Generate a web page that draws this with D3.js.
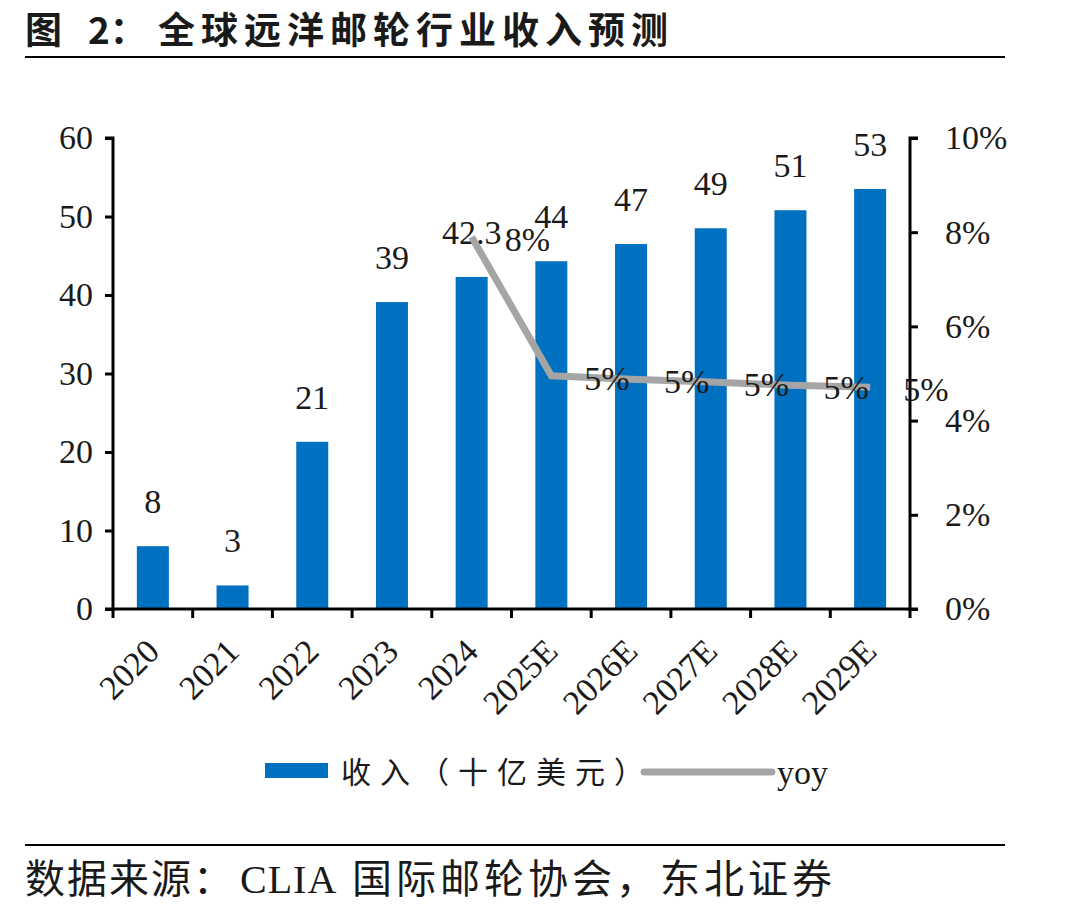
<!DOCTYPE html>
<html><head><meta charset="utf-8">
<script src="https://cdn.jsdelivr.net/npm/d3@7/dist/d3.min.js"></script>
<style>
body{margin:0;background:#fff;}
text{font-family:"Liberation Serif","Noto Sans CJK SC",serif;fill:#1a1a1a;}
</style></head>
<body><svg id="c" width="1090" height="911"></svg>
<script>
const categories = ["2020","2021","2022","2023","2024","2025E","2026E","2027E","2028E","2029E"];
const revenue = [8, 3, 21.3, 39.1, 42.3, 44.3, 46.5, 48.5, 50.8, 53.5];
const revenueLabels = ["8","3","21","39","42.3","44","47","49","51","53"];
const yoyCategories = ["2024","2025E","2026E","2027E","2028E","2029E"];
const yoy = [0.079, 0.0495, 0.0488, 0.0482, 0.0475, 0.0471];
const yoyLabels = ["8%","5%","5%","5%","5%","5%"];
const leftTicks = [0,10,20,30,40,50,60];
const rightTicks = [0,0.02,0.04,0.06,0.08,0.10];

const svg = d3.select("#c");
const L = 113, R = 910, T = 138, B = 609;
const xb = d3.scaleBand().domain(categories).range([L, R]);
const y = d3.scaleLinear().domain([0,60]).range([B, T]);
const y2 = d3.scaleLinear().domain([0,0.10]).range([B, T]);
const FS = 34;

// title
const title = svg.append("text").attr("y",44).style("font-family","'Noto Sans CJK SC'")
  .style("font-weight","bold").style("font-size","37px");
title.append("tspan").attr("x",25).text("图");
title.append("tspan").attr("x",88).text("2：");
title.append("tspan").attr("x",158).style("letter-spacing","6px").text("全球远洋邮轮行业收入预测");
svg.append("line").attr("x1",25).attr("x2",1005).attr("y1",57).attr("y2",57).attr("stroke","#000").attr("stroke-width",2);
svg.append("line").attr("x1",25).attr("x2",1005).attr("y1",845).attr("y2",845).attr("stroke","#000").attr("stroke-width",2);
const src = svg.append("text").attr("y",893).style("font-size","40px");
src.append("tspan").attr("x",25).style("letter-spacing","2px").text("数据来源：");
src.append("tspan").attr("x",240).style("letter-spacing","1px").text("CLIA");
src.append("tspan").attr("x",352).style("letter-spacing","4px").text("国际邮轮协会，东北证券");

// bars
svg.append("g").selectAll("rect").data(categories).join("rect")
  .attr("x", d => xb(d) + xb.bandwidth()/2 - 16).attr("width", 32)
  .attr("y", (d,i) => y(revenue[i])).attr("height", (d,i) => B - y(revenue[i]))
  .attr("fill", "#0070C0");

// axes
const axL = svg.append("g").attr("transform",`translate(${L},0)`)
  .call(d3.axisLeft(y).tickValues(leftTicks).tickSize(8).tickPadding(12));
const axR = svg.append("g").attr("transform",`translate(${R},0)`)
  .call(d3.axisRight(y2).tickValues(rightTicks).tickSize(8).tickPadding(27).tickFormat(d3.format(".0%")));
const axB = svg.append("g").attr("transform",`translate(0,${B})`)
  .call(d3.axisBottom(xb).tickSize(0).tickFormat(""));
[axL,axR,axB].forEach(a=>{
  a.select(".domain").attr("stroke","#000").attr("stroke-width",3);
  a.selectAll(".tick line").attr("stroke","#000").attr("stroke-width",3);
  a.selectAll(".tick text").style("font-size",FS+"px").style("font-family","'Liberation Serif'").attr("fill","#1a1a1a");
});
axL.select(".domain").attr("d",`M-8,${T}H0V${B}H-8`);
axR.select(".domain").attr("d",`M8,${T}H0V${B}H8`);
axB.select(".domain").attr("d",`M${L},0H${R}`);
// x boundary ticks
svg.append("g").selectAll("line").data(categories.concat(["end"])).join("line")
  .attr("x1",(d,i)=> i<categories.length ? xb(d) : R).attr("x2",(d,i)=> i<categories.length ? xb(d) : R)
  .attr("y1",B).attr("y2",B+9).attr("stroke","#000").attr("stroke-width",3);
// x labels
svg.append("g").selectAll("text").data(categories).join("text")
  .attr("transform", d => `translate(${xb(d)+xb.bandwidth()/2},${B+36}) rotate(-45)`)
  .attr("text-anchor","end").attr("dy","0.35em").style("font-size",FS+"px").text(d=>d);

// bar labels
svg.append("g").selectAll("text").data(categories).join("text")
  .attr("x", d => xb(d)+xb.bandwidth()/2).attr("y",(d,i)=> y(revenue[i]) - 33)
  .attr("text-anchor","middle").style("font-size",FS+"px").text((d,i)=>revenueLabels[i]);

// yoy line
const line = d3.line().x((d,i)=> xb(yoyCategories[i])+xb.bandwidth()/2).y(d=>y2(d));
svg.append("path").datum(yoy).attr("d",line).attr("fill","none").attr("stroke","#A5A5A5").attr("stroke-width",7);
svg.append("g").selectAll("text").data(yoy).join("text")
  .attr("x",(d,i)=> xb(yoyCategories[i])+xb.bandwidth()/2 + 33).attr("y",d=>y2(d)+2)
  .attr("dy","0.35em").style("font-size",FS+"px").text((d,i)=>yoyLabels[i]);

// legend
svg.append("rect").attr("x",265).attr("y",763).attr("width",63).attr("height",15).attr("fill","#0070C0");
svg.append("text").attr("x",341).attr("y",783).style("font-size","30px").style("letter-spacing","9px").text("收入（十亿美元）");
svg.append("line").attr("x1",644).attr("x2",772).attr("y1",772).attr("y2",772).attr("stroke","#A5A5A5").attr("stroke-width",7).attr("stroke-linecap","round");
svg.append("text").attr("x",777).attr("y",784).style("font-size","34px").text("yoy");
</script></body></html>
